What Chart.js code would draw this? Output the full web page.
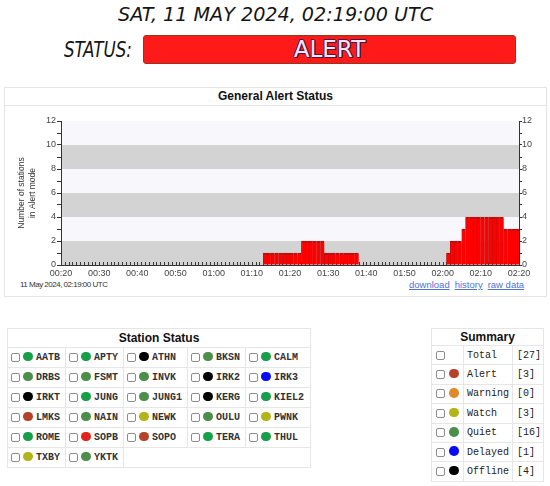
<!DOCTYPE html>
<html>
<head>
<meta charset="utf-8">
<title>General Alert Status</title>
<script src="https://cdn.jsdelivr.net/npm/chart.js@4.4.1/dist/chart.umd.min.js"></script>
<style>
  html, body { margin: 0; padding: 0; background: #fff; }
  body { width: 550px; height: 486px; position: relative; overflow: hidden; font-family: "Liberation Sans", Arial, sans-serif; color: #222; }
  .digital { position: absolute; font-family: "DejaVu Sans Condensed", "DejaVu Sans", sans-serif; font-style: italic; white-space: nowrap; line-height: 1; color: #151515; transform-origin: 0 0; }
  #clock { left: 118px; top: 5px; font-size: 19px; }
  #statusLbl { left: 64px; top: 40px; font-size: 20.5px; }
  #statusBox { position: absolute; left: 143px; top: 35px; width: 371px; height: 27px; background: #ff1a1a; border: 1px solid #8f3b22; border-radius: 3px; }
  #statusTxt { position: absolute; left: 0; right: 0; top: 2px; text-align: center; font-family: "DejaVu Sans", sans-serif; font-size: 23px; line-height: 1; color: #f3e4f3;
    text-shadow: 1px 0 #4b1640, -1px 0 #4b1640, 0 1px #4b1640, 0 -1px #4b1640, 1px 1px #4b1640, -1px -1px #4b1640; }
  #panel { position: absolute; left: 4px; top: 87px; width: 541px; height: 208px; border: 1px solid #e4e4e4; }
  #panelHead { height: 17px; border-bottom: 1px solid #e4e4e4; text-align: center; font-weight: bold; font-size: 12px; line-height: 17px; color: #111; }
  #chartBox { position: absolute; left: 4px; top: 106px; }
  #stamp { position: absolute; left: 20px; top: 280px; font-size: 8px; letter-spacing: -0.5px; color: #333; }
  #links { position: absolute; left: 409px; top: 279px; font-size: 9.5px; }
  #links a { color: #4f72d6; text-decoration: underline; margin-right: 5px; }
  .grid { position: absolute; display: grid; border-left: 1px solid #e6e6e6; border-top: 1px solid #e6e6e6; }
  .grid > div { border-right: 1px solid #e6e6e6; border-bottom: 1px solid #e6e6e6; display: flex; align-items: center; box-sizing: border-box; white-space: nowrap; }
  .grid .head { justify-content: center; font-weight: bold; font-size: 12px; color: #111; }
  #stations { left: 7px; top: 328px; grid-template-columns: 58px 58px 64px 58px 65px; grid-template-rows: 19px repeat(6, 20px); }
  #summary { left: 431px; top: 328px; grid-template-columns: 32px 49px 31px; grid-template-rows: 17px repeat(7, 19.4px); }
  .cb { width: 9px; height: 9px; box-sizing: border-box; border: 1px solid #8c8c8c; border-radius: 2px; background: #fff; flex: none; }
  .dot { width: 9.5px; height: 9.5px; border-radius: 50%; flex: none; margin-top: -2px; }
  .code { font-family: "Liberation Mono", "Courier New", monospace; font-weight: bold; font-size: 10px; color: #333; }
  .st { padding-left: 3px; }
  .st .dot { margin-left: 3.3px; }
  .st .code { margin-left: 3.2px; }
  .sm1 { padding-left: 4px; }
  .sm1 .dot { margin-left: 4.3px; }
  .sm2, .sm3 { padding-left: 3px; }
  .sm3 { padding-left: 4px; }
  .sm2 .code, .sm3 .code { font-weight: normal; color: #222; }
</style>
</head>
<body>

<div id="clock" class="digital">SAT, 11 MAY 2024, 02:19:00 UTC</div>
<div id="statusLbl" class="digital">STATUS:</div>
<div id="statusBox"><div id="statusTxt">ALERT</div></div>

<div id="panel"><div id="panelHead">General Alert Status</div></div>
<div id="chartBox"><canvas id="alertChart" width="543" height="173"></canvas></div>
<div id="stamp">11 May 2024, 02:19:00 UTC</div>
<div id="links"><a>download</a><a>history</a><a>raw data</a></div>

<div id="stations" class="grid"></div>
<div id="summary" class="grid"></div>

<script>
// stations in alert mode, one value per minute from 00:20 to 02:19 UTC
const alertCounts = [
  0, 0, 0, 0, 0, 0, 0, 0, 0, 0,   // 00:20
  0, 0, 0, 0, 0, 0, 0, 0, 0, 0,   // 00:30
  0, 0, 0, 0, 0, 0, 0, 0, 0, 0,   // 00:40
  0, 0, 0, 0, 0, 0, 0, 0, 0, 0,   // 00:50
  0, 0, 0, 0, 0, 0, 0, 0, 0, 0,   // 01:00
  0, 0, 0, 1, 1, 1, 1, 1, 1, 1,   // 01:10
  1, 1, 1, 2, 2, 2, 2, 2, 2, 1,   // 01:20
  1, 1, 1, 1, 1, 1, 1, 1, 0, 0,   // 01:30
  0, 0, 0, 0, 0, 0, 0, 0, 0, 0,   // 01:40
  0, 0, 0, 0, 0, 0, 0, 0, 0, 0,   // 01:50
  0, 1, 2, 2, 2, 3, 4, 4, 4, 4,   // 02:00
  4, 4, 4, 4, 4, 4, 3, 3, 3, 3    // 02:10
];
const tickLabels = ['00:20', '00:30', '00:40', '00:50', '01:00', '01:10', '01:20',
                    '01:30', '01:40', '01:50', '02:00', '02:10', '02:20'];
const yMax = 12;

const stations = ['AATB', 'APTY', 'ATHN', 'BKSN', 'CALM', 'DRBS', 'FSMT', 'INVK', 'IRK2',
                  'IRK3', 'IRKT', 'JUNG', 'JUNG1', 'KERG', 'KIEL2', 'LMKS', 'NAIN', 'NEWK',
                  'OULU', 'PWNK', 'ROME', 'SOPB', 'SOPO', 'TERA', 'THUL', 'TXBY', 'YKTK'];
const stationState = ['quiet', 'quiet', 'offline', 'quiet2', 'quiet', 'quiet2', 'quiet2', 'quiet2', 'offline',
                      'delayed', 'offline', 'quiet', 'quiet2', 'offline', 'quiet', 'alert', 'quiet2', 'watch',
                      'quiet2', 'watch', 'quiet', 'alert2', 'alert', 'quiet', 'quiet', 'watch', 'quiet2'];

const summaryLabels = ['Total', 'Alert', 'Warning', 'Watch', 'Quiet', 'Delayed', 'Offline'];
const summaryCounts = [27, 3, 0, 3, 16, 1, 4];
const summaryState = [null, 'alert', 'warning', 'watch', 'quiet2', 'delayed', 'offline'];

const dotColors = {
  quiet: '#17a049', quiet2: '#4b8f4b', offline: '#000000', delayed: '#0a0af5',
  alert: '#b5432a', alert2: '#e3221c', watch: '#b3b31a', warning: '#e08a2a'
};

// squeeze the "digital" header text to its width
function fitWidth(id, w) {
  const el = document.getElementById(id);
  el.style.transform = 'scaleX(' + (w / el.offsetWidth) + ')';
}
fitWidth('clock', 315);
fitWidth('statusLbl', 68);

function cell(parent, cls, html) {
  const d = document.createElement('div');
  d.className = cls;
  d.innerHTML = html;
  parent.appendChild(d);
  return d;
}
const dot = s => s ? '<span class="dot" style="background:' + dotColors[s] + '"></span>' : '';

// station status table
const stBox = document.getElementById('stations');
cell(stBox, 'head', 'Station Status').style.gridColumn = '1 / span 5';
stations.forEach((name, i) => {
  cell(stBox, 'st', '<span class="cb"></span>' + dot(stationState[i]) + '<span class="code">' + name + '</span>');
});
const left = 5 - stations.length % 5;
if (left < 5) cell(stBox, '', '').style.gridColumn = 'span ' + left;

// summary table
const smBox = document.getElementById('summary');
cell(smBox, 'head', 'Summary').style.gridColumn = '1 / span 3';
summaryLabels.forEach((lab, i) => {
  cell(smBox, 'sm1', '<span class="cb"></span>' + dot(summaryState[i]));
  cell(smBox, 'sm2', '<span class="code">' + lab + '</span>');
  cell(smBox, 'sm3', '<span class="code">[' + summaryCounts[i] + ']</span>');
});

// grey / light horizontal bands + small minute ticks inside the plot
const bandPlugin = {
  id: 'bands',
  beforeDraw(chart) {
    const {ctx, chartArea: a, scales: {y}} = chart;
    ctx.save();
    ctx.fillStyle = '#f7f7fc';
    ctx.fillRect(a.left, a.top, a.width, a.height);
    ctx.fillStyle = '#d3d3d3';
    for (let v = y.min; v < y.max; v += 4) {
      const top = y.getPixelForValue(v + 2);
      const bottom = y.getPixelForValue(v);
      ctx.fillRect(a.left, top, a.width, bottom - top);
    }
    ctx.restore();
  },
  beforeDatasetsDraw(chart) {
    const {ctx, chartArea: a, scales: {x}} = chart;
    ctx.save();
    ctx.strokeStyle = '#3a3a3a';
    ctx.lineWidth = 1;
    ctx.beginPath();
    x.ticks.forEach(t => {
      const px = Math.round(x.getPixelForValue(t.value)) + 0.5;
      ctx.moveTo(px, a.bottom);
      ctx.lineTo(px, a.bottom - 3);
    });
    ctx.stroke();
    ctx.restore();
  }
};

const tickFont = {family: '"Liberation Sans", Arial, sans-serif', size: 9};
const evenLabel = v => (v % 2 === 0 ? v : '');

new Chart(document.getElementById('alertChart'), {
  type: 'bar',
  data: {
    datasets: [{
      label: 'Stations in Alert mode',
      data: alertCounts.map((v, i) => ({x: i + 0.5, y: v})),
      backgroundColor: '#ff0000',
      borderColor: '#b81010',
      borderWidth: {top: 2, left: 0.7, right: 0, bottom: 0},
      borderSkipped: false,
      barPercentage: 1,
      categoryPercentage: 1,
      yAxisID: 'y'
    }]
  },
  options: {
    responsive: false,
    animation: false,
    layout: {padding: {top: 15, left: 0, right: 0, bottom: 0}},
    plugins: {
      legend: {display: false},
      tooltip: {enabled: false}
    },
    scales: {
      x: {
        type: 'linear',
        offset: false,
        min: 0,
        max: 120,
        afterFit: s => { s.height = 14; },
        grid: {drawOnChartArea: false, drawTicks: false},
        border: {color: '#333'},
        ticks: {
          stepSize: 1,
          autoSkip: false,
          maxRotation: 0,
          padding: 3,
          color: '#444',
          font: tickFont,
          callback: v => (v % 10 === 0 ? tickLabels[v / 10] : '')
        }
      },
      y: {
        position: 'left',
        min: 0,
        max: yMax,
        afterFit: s => { s.width = 57; },
        grid: {drawOnChartArea: false, tickLength: 4, tickColor: '#333'},
        border: {color: '#333'},
        ticks: {stepSize: 1, autoSkip: false, padding: 1, color: '#444', font: tickFont, callback: evenLabel},
        title: {
          display: true,
          text: ['Number of stations', 'in Alert mode'],
          color: '#333',
          font: {family: '"Liberation Sans", Arial, sans-serif', size: 8.5},
          padding: {top: 13, bottom: 0}
        }
      },
      y2: {
        position: 'right',
        display: true,
        min: 0,
        max: yMax,
        afterFit: s => { s.width = 28; },
        grid: {drawOnChartArea: false, tickLength: 3, tickColor: '#333'},
        border: {color: '#333'},
        ticks: {stepSize: 1, autoSkip: false, padding: 0, color: '#444', font: tickFont, callback: evenLabel}
      }
    }
  },
  plugins: [bandPlugin]
});
</script>
</body>
</html>
